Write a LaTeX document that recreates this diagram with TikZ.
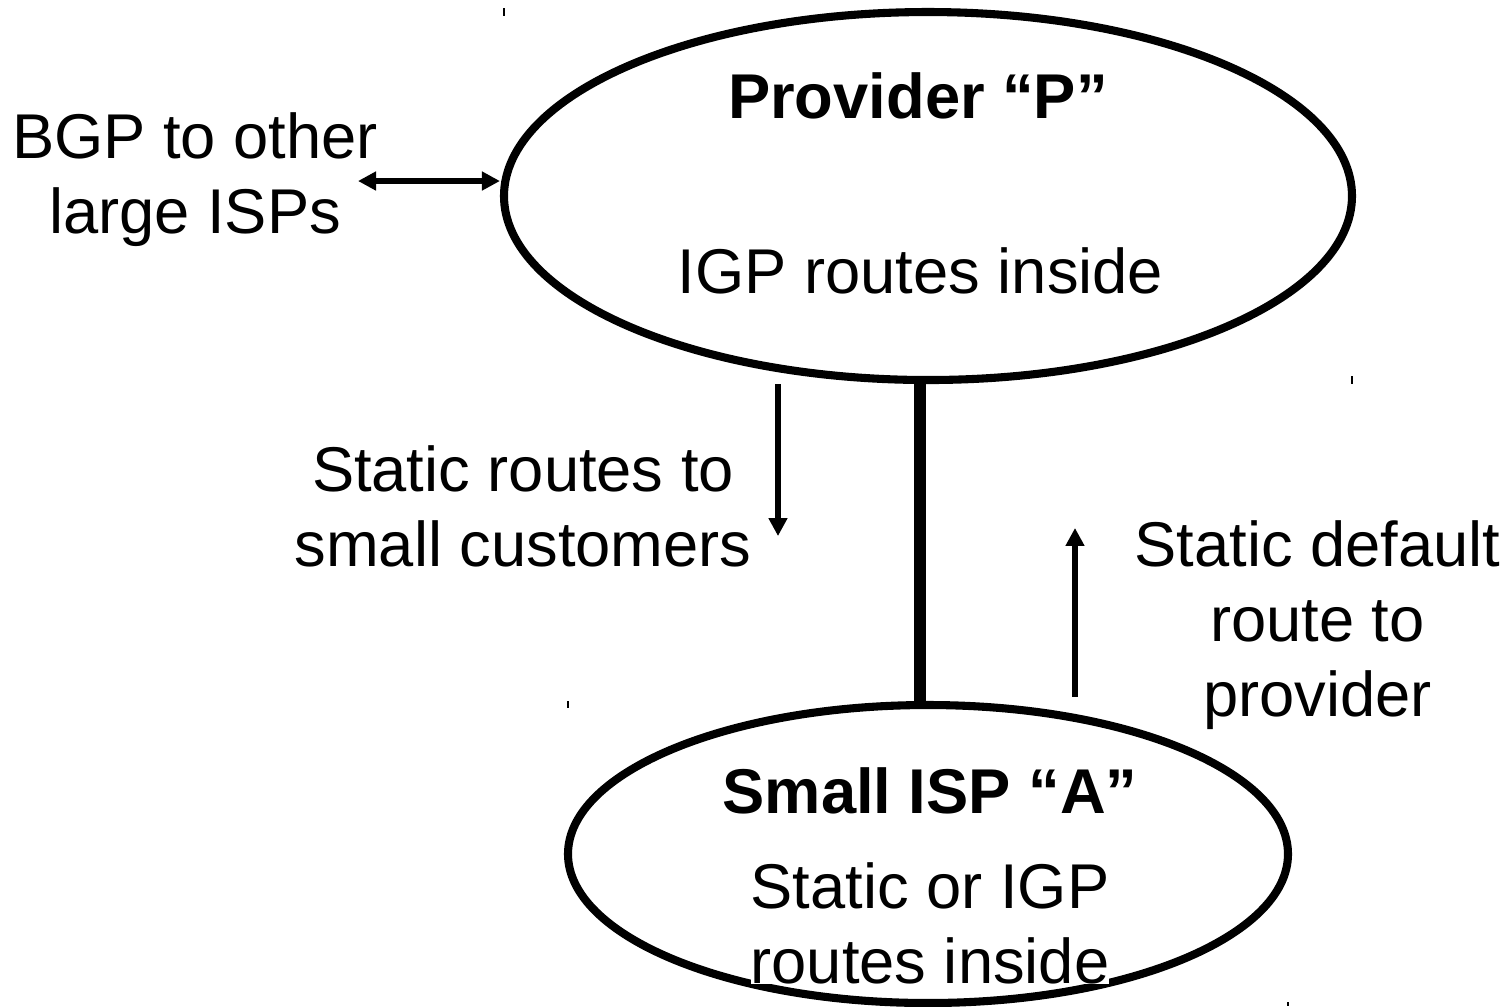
\documentclass[tikz,border=0pt]{standalone}
\usepackage{fontspec}
\setmainfont{Liberation Sans}
\usetikzlibrary{shapes.geometric, arrows.meta}

\begin{document}
\begin{tikzpicture}[
    cloud/.style={draw, ellipse, line width=2.3pt, inner sep=0pt},
    txt/.style={font=\fontsize{18}{21.3}\selectfont, align=center, inner sep=1pt},
    arr/.style={line width=1.6pt, -{Triangle[length=0.18cm, width=0.18cm]}},
    twoway/.style={line width=1.6pt, {Triangle[length=0.18cm, width=0.18cm]}-{Triangle[length=0.18cm, width=0.18cm]}},
    handle/.style={line width=0.6pt}
]
    \useasboundingbox (0,0) rectangle (15.09,-10.06);

    \node (provider) [cloud, minimum width=8.48cm, minimum height=3.68cm] at (9.28,-1.96) {};
    \node (smallisp) [cloud, minimum width=7.20cm, minimum height=2.98cm] at (9.28,-8.54) {};

    \node (provname) [txt, anchor=base, font=\fontsize{18}{21.3}\selectfont\bfseries] at (9.18,-1.18) {Provider “P”};
    \node (provigp) [txt, anchor=base] at (9.205,-2.93) {IGP routes inside};
    \node (ispname) [txt, anchor=base, font=\fontsize{18}{21.3}\selectfont\bfseries] at (9.30,-8.13) {Small ISP “A”};
    \node (ispinside) [txt, fill=white, inner sep=0pt] at (9.30,-9.23) {Static or IGP\\routes inside};

    \node (bgp) [txt] at (1.95,-1.795) {BGP to other\\large ISPs};
    \node (statcust) [txt] at (5.23,-5.06) {Static routes to\\small customers};
    \node (statdef) [txt] at (13.175,-6.25) {Static default\\route to\\provider};

    % link between the two networks
    \draw[line width=3.4pt] ([xshift=-0.08cm]provider.south) -- ([xshift=-0.08cm]smallisp.north);

    % route arrows
    \coordinate (bgpend) at (3.58,-1.81);
    \draw[twoway] (bgpend) -- ([yshift=0.15cm]provider.west);
    \draw[arr] ([xshift=-1.50cm]provider.south) -- ++(0,-1.52);
    \draw[arr] ([xshift=1.47cm, yshift=0.04cm]smallisp.north) -- ++(0,1.69);

    % selection handles
    \draw[handle] (5.04,-0.08) -- (5.04,-0.16);
    \draw[handle] (13.52,-3.76) -- (13.52,-3.84);
    \draw[handle] (5.68,-7.01) -- (5.68,-7.08);
    \draw[handle] (12.88,-10.02) -- (12.88,-10.06);
\end{tikzpicture}
\end{document}
